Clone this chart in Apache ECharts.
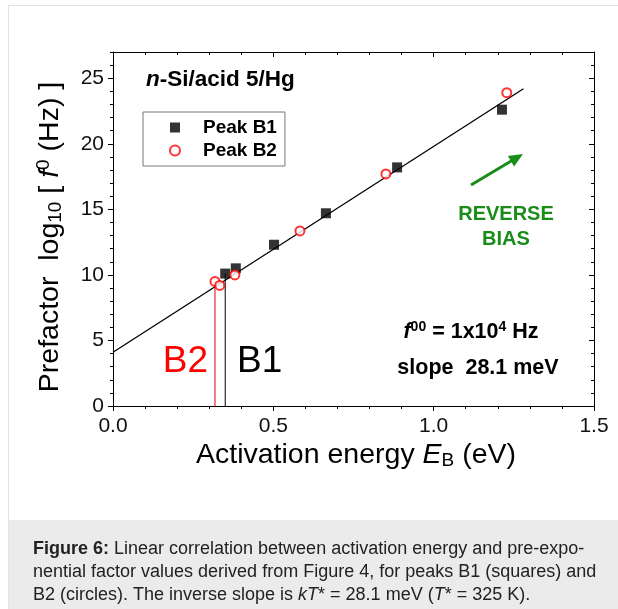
<!DOCTYPE html>
<html>
<head>
<meta charset="utf-8">
<script src="https://cdn.jsdelivr.net/npm/echarts@6/dist/echarts.min.js"></script>
<style>
html,body{margin:0;padding:0;background:#fff;}
#chart{width:618px;height:609px;}
</style>
</head>
<body>
<div id="chart"></div>
<script>
// ---- data ----
const peakB1 = [[0.350,10.1],[0.383,10.5],[0.502,12.3],[0.664,14.7],[0.886,18.2],[1.213,22.6]];
const peakB2 = [[0.318,9.5],[0.333,9.2],[0.380,10.0],[0.583,13.35],[0.851,17.7],[1.228,23.9]];
const fitLine = [[0,4.1],[1.28,24.2]];
const yMajorTicks = [0,5,10,15,20,25];
const xRange = [0,1.5];
const yRange = [0,27];

const FONT = "'Liberation Sans', Arial, Helvetica, sans-serif";
const chart = echarts.init(document.getElementById('chart'), null, {renderer:'canvas'});

const grid = {left:113, top:52, right:24, bottom:203};
function xAx(pos, inside, labels){
  return {type:'value', position:pos, min:xRange[0], max:xRange[1], interval:0.5,
    axisLine:{show:true,onZero:false,lineStyle:{color:'#000',width:1}},
    axisTick:{show:true,inside:inside,length:5,lineStyle:{color:'#000'}},
    minorTick:{show:true,splitNumber:5,length:3,lineStyle:{color:'#000'}},
    splitLine:{show:false},
    axisLabel:{show:labels,color:'#111',fontSize:21,fontFamily:FONT,margin:10,
      formatter:v=>v.toFixed(1)}};
}
function yAx(pos, inside, labels, major){
  const a = {type:'value', position:pos, min:yRange[0], max:yRange[1], interval:major?5:1,
    axisLine:{show:major,onZero:false,lineStyle:{color:'#000',width:1}},
    axisTick:{show:true,inside:inside,length:major?5:3,lineStyle:{color:'#000'}},
    splitLine:{show:false},
    axisLabel:{show:labels,color:'#111',fontSize:21,fontFamily:FONT,margin:9}};
  if(major){ a.axisTick.customValues = yMajorTicks; a.axisLabel.customValues = yMajorTicks; }
  return a;
}

const option = {
  animation:false,
  backgroundColor:'#fff',
  grid:grid,
  xAxis:[xAx('bottom',false,true), xAx('top',true,false)],
  yAxis:[yAx('left',false,true,true), yAx('right',true,false,true), yAx('left',false,false,false), yAx('right',true,false,false)],
  legend:{left:143, top:112, orient:'vertical', itemWidth:10, itemHeight:10, itemGap:4,
    padding:[6,8,6,26], borderColor:'#777', borderWidth:1, backgroundColor:'#fff',
    data:[{name:'Peak B1',icon:'rect'},{name:'Peak B2',icon:'emptyCircle'}],
    formatter:n=>'{a|'+n+'}',
    textStyle:{rich:{a:{fontSize:19,fontWeight:'bold',fontFamily:FONT,color:'#000',padding:[0,0,0,18],lineHeight:18}}}},
  series:[
    {type:'line', name:'fit', data:fitLine, symbol:'none', lineStyle:{color:'#000',width:1.3}, z:1, silent:true},
    {type:'line', name:'dropB2', data:[[peakB2[0][0],0],peakB2[0]], symbol:'none', lineStyle:{color:'#e00000',width:1}, z:1},
    {type:'line', name:'dropB1', data:[[peakB1[0][0],0],peakB1[0]], symbol:'none', lineStyle:{color:'#000',width:1}, z:1},
    {type:'scatter', name:'Peak B1', data:peakB1, symbol:'rect', symbolSize:10, itemStyle:{color:'#000'}, z:3},
    {type:'scatter', name:'Peak B2', data:peakB2, symbol:'emptyCircle', symbolSize:9,
      itemStyle:{color:'#ff0000', borderColor:'#ff0000', borderWidth:2}, z:4}
  ],
  graphic:[
    {type:'rect', silent:true, z:-10, shape:{x:8.5,y:5.5,width:640,height:640}, style:{fill:'#fff',stroke:'#e2e2e2',lineWidth:1}},
    {type:'rect', silent:true, z:-9, shape:{x:9,y:520,width:620,height:100}, style:{fill:'#ebebeb'}},
    {type:'text', x:146, y:80, style:{text:'{i|n}{b|-Si/acid 5/Hg}', verticalAlign:'middle',
      rich:{i:{fontSize:22.5,fontWeight:'bold',fontStyle:'italic',fontFamily:FONT,fill:'#000'},
            b:{fontSize:22.5,fontWeight:'bold',fontFamily:FONT,fill:'#000'}}}},
    {type:'text', x:506, y:214, style:{text:'REVERSE', align:'center', verticalAlign:'middle', fontSize:20, fontWeight:'bold', fontFamily:FONT, fill:'#1a8c1a'}},
    {type:'text', x:506, y:239, style:{text:'BIAS', align:'center', verticalAlign:'middle', fontSize:20, fontWeight:'bold', fontFamily:FONT, fill:'#1a8c1a'}},
    {type:'line', shape:{x1:471,y1:185,x2:512,y2:160.5}, style:{stroke:'#1a8c1a',lineWidth:3}},
    {type:'polygon', shape:{points:[[523,154],[514.1,166.4],[507.9,156.1]]}, style:{fill:'#1a8c1a'}},
    {type:'text', x:471, y:332, style:{text:'{i|f}{s|00}{b| = 1x10}{s|4}{b| Hz}', align:'center', verticalAlign:'middle',
      rich:{i:{fontSize:21.5,fontWeight:'bold',fontStyle:'italic',fontFamily:FONT,fill:'#000',lineHeight:23},
            b:{fontSize:21.5,fontWeight:'bold',fontFamily:FONT,fill:'#000',lineHeight:23},
            s:{fontSize:14,fontWeight:'bold',fontFamily:FONT,fill:'#000',verticalAlign:'top',lineHeight:14}}}},
    {type:'text', x:478, y:368, style:{text:'slope  28.1 meV', align:'center', verticalAlign:'middle', fontSize:21.5, fontWeight:'bold', fontFamily:FONT, fill:'#000'}},
    {type:'text', x:208, y:362, style:{text:'B2', align:'right', verticalAlign:'middle', fontSize:37, fontFamily:FONT, fill:'#ff0000'}},
    {type:'text', x:237, y:362, style:{text:'B1', align:'left', verticalAlign:'middle', fontSize:37, fontFamily:FONT, fill:'#000'}},
    {type:'text', x:356, y:455, style:{text:'{t|Activation energy }{it|E}{sub|B}{t| (eV)}', align:'center', verticalAlign:'middle',
      rich:{t:{fontSize:28.5,fontFamily:FONT,fill:'#000',lineHeight:31},
            it:{fontSize:28.5,fontStyle:'italic',fontFamily:FONT,fill:'#000',lineHeight:31},
            sub:{fontSize:19,fontFamily:FONT,fill:'#000',verticalAlign:'bottom',lineHeight:14}}}},
    {type:'text', x:50, y:237, rotation:Math.PI/2, style:{text:'{t|Prefactor  log}{sub|10}{t| [ }{it|f}{sup|0}{t| (Hz) ]}', align:'center', verticalAlign:'middle',
      rich:{t:{fontSize:28.5,fontFamily:FONT,fill:'#000',lineHeight:31},
            it:{fontSize:28.5,fontStyle:'italic',fontFamily:FONT,fill:'#000',lineHeight:31},
            sub:{fontSize:19,fontFamily:FONT,fill:'#000',verticalAlign:'bottom',lineHeight:14},
            sup:{fontSize:19,fontFamily:FONT,fill:'#000',verticalAlign:'top',lineHeight:14}}}},
    {type:'text', x:33, y:549, style:{text:'{b|Figure 6:} Linear correlation between activation energy and pre-expo-', verticalAlign:'middle',
      fontSize:18, fontFamily:FONT, fill:'#222', rich:{b:{fontSize:18,fontWeight:'bold',fontFamily:FONT,fill:'#222'}}}},
    {type:'text', x:33, y:572, style:{text:'nential factor values derived from Figure 4, for peaks B1 (squares) and', verticalAlign:'middle',
      fontSize:18, fontFamily:FONT, fill:'#222'}},
    {type:'text', x:33, y:595, style:{text:'B2 (circles). The inverse slope is {i|kT}* = 28.1 meV ({i|T}* = 325 K).', verticalAlign:'middle',
      fontSize:18, fontFamily:FONT, fill:'#222', rich:{i:{fontSize:18,fontStyle:'italic',fontFamily:FONT,fill:'#222'}}}}
  ]
};
chart.setOption(option);
</script>
</body>
</html>
